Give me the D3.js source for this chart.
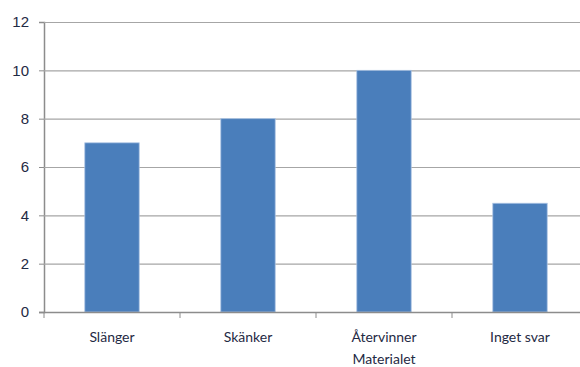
<!DOCTYPE html>
<html lang="sv">
<head>
<meta charset="UTF-8">
<script src="https://d3js.org/d3.v7.min.js"></script>
<style>
  body, html { margin: 0; background: #fff; }
  svg { display: block; font-family: Lato, "Open Sans", sans-serif; }
</style>
</head>
<body>
<svg id="chart"></svg>
<script>
  const categories = ["Slänger", "Skänker", "Återvinner\nMaterialet", "Inget svar"];
  const values = [7, 8, 10, 4.5];
  const yTicks = [0, 2, 4, 6, 8, 10, 12];

  const svgWidth = 580, svgHeight = 367;
  const margin = { top: 22, right: -8, bottom: 55, left: 44 };

  const svg = d3.select("#chart")
    .attr("width", svgWidth)
    .attr("height", svgHeight);

  const x = d3.scaleBand()
    .domain(categories)
    .range([margin.left, svgWidth - margin.right])
    .paddingInner(0.6)
    .paddingOuter(0.3);

  const y = d3.scaleLinear()
    .domain([0, 12])
    .range([svgHeight - margin.bottom, margin.top]);

  // gridlines + y axis
  const yAxis = svg.append("g")
    .attr("transform", `translate(${margin.left},0)`)
    .call(d3.axisLeft(y).tickValues(yTicks).tickSize(5).tickFormat(d3.format("d")));
  yAxis.select(".domain").attr("stroke", "#8c8c8c").attr("stroke-width", 1.5);
  yAxis.selectAll(".tick line").attr("stroke", "#8c8c8c");
  yAxis.selectAll(".tick text")
    .attr("x", -15)
    .attr("fill", "#1f2a44")
    .style("font-size", "15px");

  svg.append("g")
    .selectAll("line")
    .data(yTicks.filter(d => d > 0))
    .enter().append("line")
    .attr("x1", margin.left)
    .attr("x2", svgWidth)
    .attr("y1", d => y(d) + 0.5)
    .attr("y2", d => y(d) + 0.5)
    .attr("stroke", "#a6a6a6")
    .attr("stroke-width", 1.2);

  // bars
  svg.append("g")
    .selectAll("rect")
    .data(values)
    .enter().append("rect")
    .attr("x", (d, i) => x(categories[i]))
    .attr("y", d => y(d))
    .attr("width", x.bandwidth())
    .attr("height", d => y(0) - y(d))
    .attr("fill", "#4a7ebb")
    .attr("stroke", "#a9c2e3")
    .attr("stroke-width", 0.8);

  // x axis
  const step = x.step();
  const xAxis = svg.append("g")
    .attr("transform", `translate(0,${y(0)})`);
  xAxis.append("line")
    .attr("x1", margin.left - 5)
    .attr("x2", svgWidth)
    .attr("y1", 0.5).attr("y2", 0.5)
    .attr("stroke", "#8c8c8c")
    .attr("stroke-width", 1.5);
  xAxis.selectAll(".cat-tick")
    .data(d3.range(categories.length + 1))
    .enter().append("line")
    .attr("x1", i => margin.left + i * step)
    .attr("x2", i => margin.left + i * step)
    .attr("y1", 0).attr("y2", 6)
    .attr("stroke", "#8c8c8c");

  const labels = xAxis.selectAll(".cat-label")
    .data(categories)
    .enter().append("text")
    .attr("text-anchor", "middle")
    .attr("fill", "#1f2a44")
    .style("font-size", "14px");
  labels.each(function (d) {
    const t = d3.select(this);
    d.split("\n").forEach((line, k) => {
      t.append("tspan")
        .attr("x", x(d) + x.bandwidth() / 2)
        .attr("y", 30 + k * 22)
        .text(line);
    });
  });
</script>
</body>
</html>
